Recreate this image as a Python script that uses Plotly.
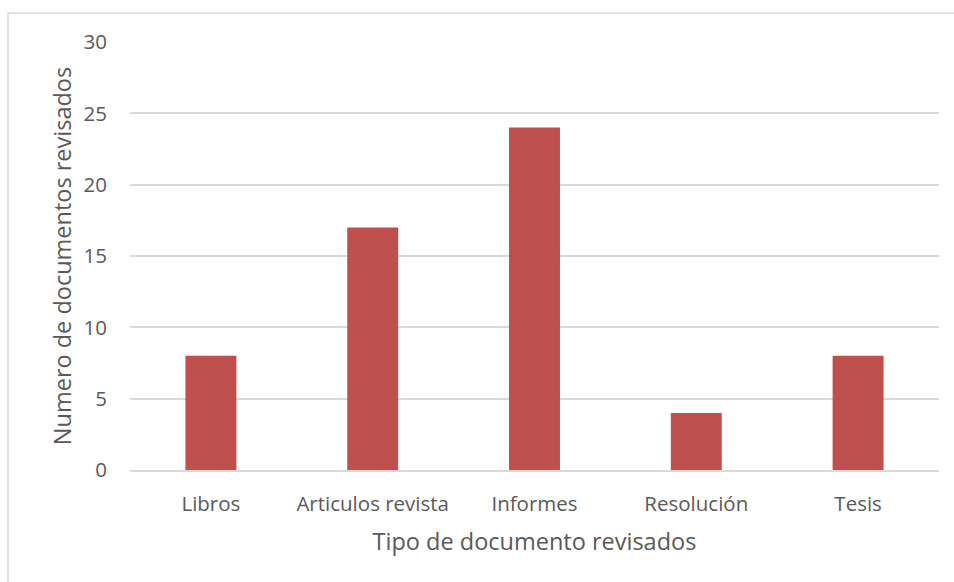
import plotly.graph_objects as go

categories = ["Libros", "Articulos revista", "Informes", "Resolución", "Tesis"]
values = [8, 17, 24, 4, 8]
y_ticks = [0, 5, 10, 15, 20, 25, 30]

fig = go.Figure(go.Bar(x=categories, y=values, marker_color="#C0504D",
                       marker_line_width=0, width=0.315))

font_family = "'Open Sans', sans-serif"
fig.update_layout(
    width=954, height=582,
    margin=dict(l=130, r=15, t=42, b=112),
    paper_bgcolor="white", plot_bgcolor="white",
    font=dict(family=font_family, color="#595959", size=20.5),
    showlegend=False,
)
fig.update_xaxes(
    showgrid=False, showline=True, linecolor="#D9D9D9", linewidth=1.5,
    ticks="", ticklabelstandoff=15,
    title=dict(text="Tipo de documento revisados", font=dict(size=23.5, color="#595959"), standoff=17),
)
fig.update_yaxes(
    range=[0, 30], tickvals=y_ticks, showgrid=True, gridcolor="#D9D9D9", gridwidth=1.5,
    zeroline=False, showline=False, ticks="", ticklabelstandoff=22,
    title=dict(text="Numero de documentos revisados", font=dict(size=23.5, color="#595959"), standoff=5),
)
fig.add_shape(type="rect", xref="paper", yref="paper",
              x0=-0.1508, y0=-0.4, x1=1.2, y1=1.0678,
              line=dict(color="#D9D9D9", width=1.5), fillcolor="rgba(0,0,0,0)", layer="below")

fig.write_html("out.html")
